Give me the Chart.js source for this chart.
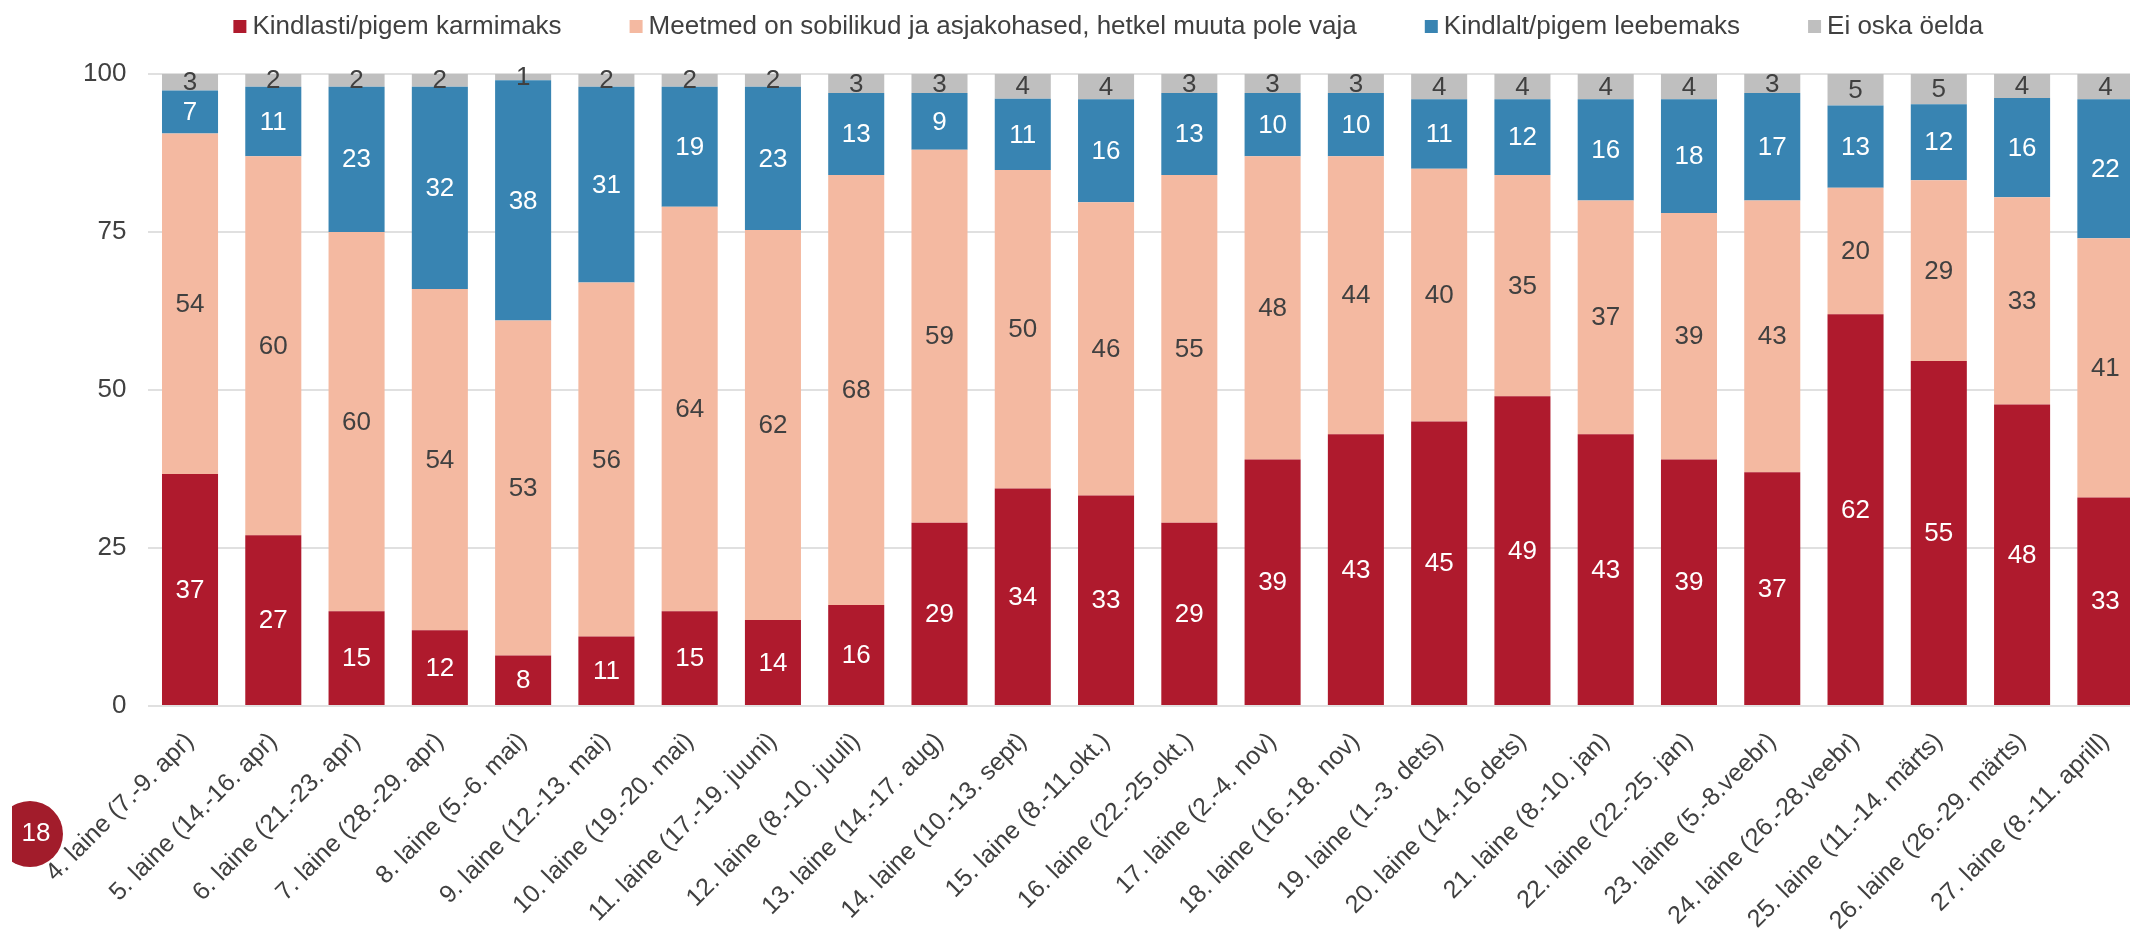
<!DOCTYPE html>
<html>
<head>
<meta charset="utf-8">
<script src="https://cdn.jsdelivr.net/npm/chart.js@4.4.1/dist/chart.umd.min.js"></script>
<style>
  html, body { margin: 0; padding: 0; background: #fff; overflow: hidden; }
  #wrap { width: 2148px; height: 933px; position: relative; }
</style>
</head>
<body>
<div id="wrap"><canvas id="chart"></canvas></div>
<script>
// --- data --- //
const waves = [
    '4. laine (7.-9. apr)', '5. laine (14.-16. apr)', '6. laine (21.-23. apr)', '7. laine (28.-29. apr)',
    '8. laine (5.-6. mai)', '9. laine (12.-13. mai)', '10. laine (19.-20. mai)', '11. laine (17.-19. juuni)',
    '12. laine (8.-10. juuli)', '13. laine (14.-17. aug)', '14. laine (10.-13. sept)', '15. laine (8.-11.okt.)',
    '16. laine (22.-25.okt.)', '17. laine (2.-4. nov)', '18. laine (16.-18. nov)', '19. laine (1.-3. dets)',
    '20. laine (14.-16.dets)', '21. laine (8.-10. jan)', '22. laine (22.-25. jan)', '23. laine (5.-8.veebr)',
    '24. laine (26.-28.veebr)', '25. laine (11.-14. märts)', '26. laine (26.-29. märts)', '27. laine (8.-11. aprill)'
];
const stricter = [36.7, 27, 15, 12, 8, 11, 15, 13.6, 16, 29, 34.4, 33.3, 29, 39, 43, 45, 49, 43, 39, 37, 62, 54.6, 47.7, 33];
const adequate = [53.9, 60, 60, 54, 53, 56, 64, 61.7, 68, 59, 50.4, 46.4, 55, 48, 44, 40, 35, 37, 39, 43, 20, 28.6, 32.8, 41];
const milder   = [6.8, 11, 23, 32, 38, 31, 19, 22.7, 13, 9, 11.3, 16.3, 13, 10, 10, 11, 12, 16, 18, 17, 13, 12.0, 15.7, 22];
const dontKnow = [2.6, 2, 2, 2, 1, 2, 2, 2.0, 3, 3, 3.9, 4.0, 3, 3, 3, 4, 4, 4, 4, 3, 5, 4.8, 3.8, 4];
const yTicks = [0, 25, 50, 75, 100];
const seriesNames = [
    'Kindlasti/pigem karmimaks',
    'Meetmed on sobilikud ja asjakohased, hetkel muuta pole vaja',
    'Kindlalt/pigem leebemaks',
    'Ei oska öelda'
];

const seriesColors = ['#AF1A2D', '#F4B9A1', '#3884B2', '#BFBFBF'];
const valueColors = ['#ffffff', '#404040', '#ffffff', '#404040'];
const FONT = '"Liberation Sans", Arial, sans-serif';
const TEXT = '#404040';

Chart.defaults.font.family = FONT;
Chart.defaults.color = TEXT;

// value labels in the middle of every segment
const barLabels = {
    id: 'barLabels',
    afterDatasetsDraw(chart) {
        const ctx = chart.ctx;
        ctx.save();
        ctx.font = '26px ' + FONT;
        ctx.textAlign = 'center';
        ctx.textBaseline = 'middle';
        chart.data.datasets.forEach((ds, i) => {
            chart.getDatasetMeta(i).data.forEach((bar, j) => {
                const { x, y, base } = bar.getProps(['x', 'y', 'base'], true);
                ctx.fillStyle = valueColors[i];
                ctx.fillText(Math.round(ds.data[j]), x, (y + base) / 2 + 1);
            });
        });
        ctx.restore();
    }
};

// legend row at the top (small gap between box and text, wide gap between items)
const topLegend = {
    id: 'topLegend',
    afterDraw(chart) {
        const ctx = chart.ctx;
        ctx.save();
        ctx.font = '26px ' + FONT;
        ctx.textBaseline = 'middle';
        let x = chart.chartArea.left + 85;
        const y = 27;
        chart.data.datasets.forEach(ds => {
            ctx.fillStyle = ds.backgroundColor;
            ctx.fillRect(x, y - 7, 13, 13);
            x += 19;
            ctx.fillStyle = TEXT;
            ctx.fillText(ds.label, x, y);
            x += ctx.measureText(ds.label).width + 68;
        });
        ctx.restore();
    }
};

// page number badge, bottom left
const pageBadge = {
    id: 'pageBadge',
    afterDraw(chart) {
        const ctx = chart.ctx;
        ctx.save();
        ctx.beginPath();
        ctx.rect(12, 780, 100, 120);
        ctx.clip();
        ctx.fillStyle = '#A21C2B';
        ctx.beginPath();
        ctx.arc(30, 834, 33, 0, Math.PI * 2);
        ctx.fill();
        ctx.fillStyle = '#ffffff';
        ctx.font = '26px ' + FONT;
        ctx.textAlign = 'center';
        ctx.textBaseline = 'middle';
        ctx.fillText('18', 36, 834);
        ctx.restore();
    }
};

const series = [stricter, adequate, milder, dontKnow];

new Chart(document.getElementById('chart'), {
    type: 'bar',
    data: {
        labels: waves,
        datasets: series.map((data, i) => ({
            label: seriesNames[i],
            data: data,
            backgroundColor: seriesColors[i],
            borderWidth: 0,
            barPercentage: 0.673,
            categoryPercentage: 1
        }))
    },
    options: {
        responsive: true,
        maintainAspectRatio: false,
        animation: false,
        layout: { padding: { left: 61, right: 1, top: 74, bottom: 0 } },
        plugins: {
            legend: { display: false },
            tooltip: { enabled: false }
        },
        scales: {
            x: {
                stacked: true,
                grid: { display: false },
                border: { display: false },
                // labels may hang past the left edge, and the axis keeps a fixed height
                afterFit: scale => {
                    scale.paddingLeft = 0;
                    scale.paddingRight = 0;
                    scale.height = 227;
                },
                ticks: {
                    autoSkip: false,
                    minRotation: 45,
                    maxRotation: 45,
                    padding: 13,
                    color: TEXT,
                    font: { size: 25 }
                }
            },
            y: {
                stacked: true,
                min: 0,
                max: 100,
                border: { display: false },
                grid: { color: '#e0e0e0', lineWidth: 2, drawTicks: false },
                afterBuildTicks: axis => { axis.ticks = yTicks.map(v => ({ value: v })); },
                ticks: { padding: 22, color: TEXT, font: { size: 26 } }
            }
        }
    },
    plugins: [barLabels, topLegend, pageBadge]
});
</script>
</body>
</html>
